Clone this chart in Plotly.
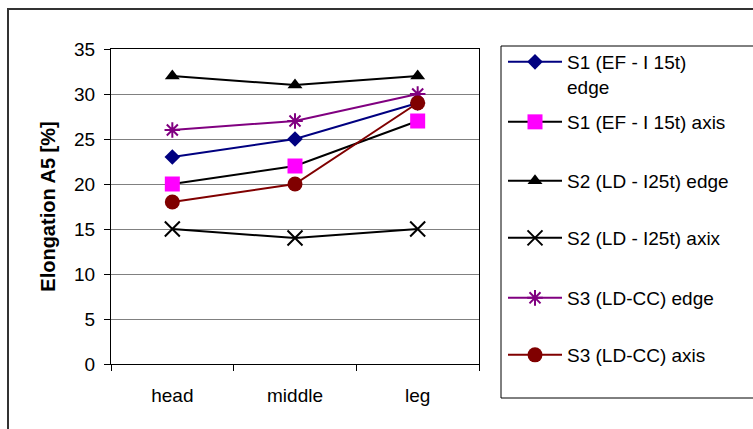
import plotly.graph_objects as go

categories = ["head", "middle", "leg"]
s1_edge = [23, 25, 29]
s1_axis = [20, 22, 27]
s2_edge = [32, 31, 32]
s2_axix = [15, 14, 15]
s3_edge = [26, 27, 30]
s3_axis = [18, 20, 29]

names = ["S1 (EF - I 15t)<br>edge", "S1 (EF - I 15t) axis", "S2 (LD - I25t) edge",
         "S2 (LD - I25t) axix", "S3 (LD-CC) edge", "S3 (LD-CC) axis"]
series = [s1_edge, s1_axis, s2_edge, s2_axix, s3_edge, s3_axis]
line_colors = ["#000080", "#000000", "#000000", "#000000", "#800080", "#800000"]
marker_colors = ["#000080", "#FF00FF", "#000000", "#000000", "#800080", "#800000"]
symbols = ["diamond", "square", "triangle-up", "x-thin", "asterisk-open", "circle"]
sizes = [12, 15, 13, 15, 13, 15]
legend_ids = ["legend", "legend2", "legend3", "legend4", "legend5", "legend6"]
legend_y_px = [43, 122, 181, 238, 298, 355]

W, H = 753, 429
FONT = "Liberation Sans, Arial, sans-serif"

fig = go.Figure()
for i in range(6):
    fig.add_trace(go.Scatter(
        x=categories, y=series[i], name=names[i], mode="lines+markers",
        line=dict(color=line_colors[i], width=2),
        marker=dict(symbol=symbols[i], size=sizes[i], color=marker_colors[i],
                    line=dict(color=marker_colors[i], width=2 if symbols[i] in ("x-thin", "asterisk-open") else 0)),
        legend=legend_ids[i],
    ))

layout_legends = {}
for i, lid in enumerate(legend_ids):
    if i == 0:
        layout_legends[lid] = dict(x=503 / W, xanchor="left", y=1 - legend_y_px[i] / H, yanchor="top",
                                   font=dict(family=FONT, size=19, color="black"), bgcolor="rgba(0,0,0,0)",
                                   itemwidth=54, valign="top", tracegroupgap=0)
    else:
        layout_legends[lid] = dict(x=503 / W, xanchor="left", y=1 - legend_y_px[i] / H, yanchor="middle",
                                   font=dict(family=FONT, size=19, color="black"), bgcolor="rgba(0,0,0,0)",
                                   itemwidth=54, valign="middle")

fig.update_layout(
    width=W, height=H,
    margin=dict(l=0, r=0, t=0, b=0, autoexpand=False),
    paper_bgcolor="white", plot_bgcolor="white",
    font=dict(family=FONT, size=19, color="black"),
    xaxis=dict(domain=[111 / W, 479 / W], type="category", range=[-0.5, 2.5],
               tickson="boundaries", ticks="outside", ticklen=6, tickcolor="black",
               showline=True, linecolor="black", linewidth=1, mirror=True,
               showgrid=False, ticklabelstandoff=14, automargin=False,
               tickfont=dict(family=FONT, size=19, color="black")),
    yaxis=dict(domain=[1 - 364 / H, 1 - 49 / H], range=[0, 35], dtick=5,
               ticks="outside", ticklen=6, tickcolor="black",
               showline=True, linecolor="black", linewidth=1, mirror=True,
               showgrid=True, gridcolor="#808080", gridwidth=1, zeroline=False,
               ticklabelstandoff=5, automargin=False,
               tickfont=dict(family=FONT, size=19, color="black")),
    showlegend=True,
    shapes=[
        dict(type="rect", xref="paper", yref="paper", x0=8 / W, x1=1.02, y0=-0.02, y1=1 - 9 / H,
             line=dict(color="#333333", width=2), fillcolor="rgba(0,0,0,0)"),
        dict(type="rect", xref="paper", yref="paper", x0=501 / W, x1=1.02, y0=1 - 398 / H, y1=1 - 46 / H,
             line=dict(color="black", width=1), fillcolor="rgba(0,0,0,0)"),
    ],
    **layout_legends,
)
fig.update_yaxes(title=dict(text="<b>Elongation A5 [%]</b>", standoff=13,
                            font=dict(family=FONT, size=20, color="black")))

fig.write_html("out.html")
